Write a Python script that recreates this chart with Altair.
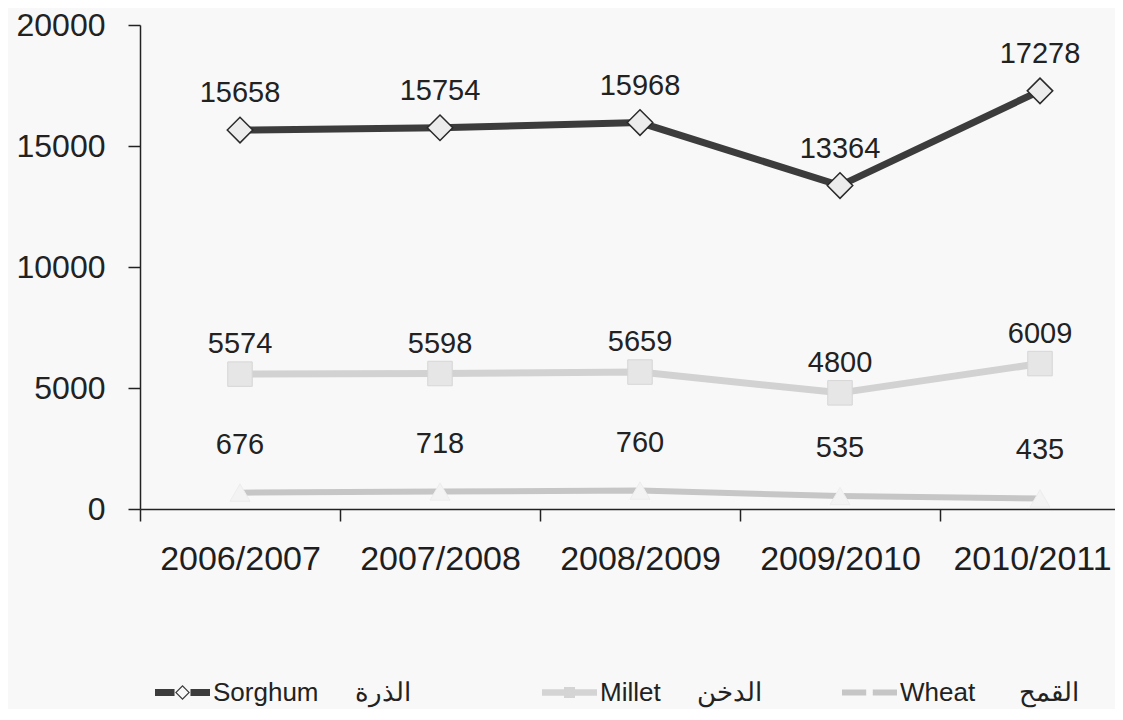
import altair as alt
import pandas as pd

years = ["2006/2007", "2007/2008", "2008/2009", "2009/2010", "2010/2011"]
series = ["Sorghum", "Millet", "Wheat"]
arabic = ["الذرة", "الدخن", "القمح"]
sorghum = [15658, 15754, 15968, 13364, 17278]
millet = [5574, 5598, 5659, 4800, 6009]
wheat = [676, 718, 760, 535, 435]
y_ticks = [0, 5000, 10000, 15000, 20000]

rows = []
for name, vals in zip(series, [sorghum, millet, wheat]):
    for yr, v in zip(years, vals):
        rows.append({"year": yr, "series": name, "value": v})
df = pd.DataFrame(rows)

REG = "Liberation Sans, Arial"

x_enc = alt.X(
    "year:N",
    sort=years,
    scale=alt.Scale(type="band", range=[0, 1000], paddingInner=0, paddingOuter=0),
    axis=alt.Axis(
        title=None, tickBand="extent", labelFont=REG, labelFontSize=34,
        labelColor="#1e1e1e", labelPadding=21, tickSize=12, tickColor="#222222",
        domainColor="#222222", domainWidth=1.5, tickWidth=1.5, labelAngle=0,
        grid=False, labelLimit=0,
        labelOffset={"condition": {"test": "datum.value == '2010/2011'", "value": -8},
                     "value": 0},
    ),
)
y_enc = alt.Y(
    "value:Q",
    scale=alt.Scale(domain=[0, 20000], nice=False),
    axis=alt.Axis(
        title=None, values=y_ticks, format="d", labelFont=REG, labelFontSize=32,
        labelColor="#222222", labelPadding=23, tickSize=12, tickColor="#222222",
        domainColor="#222222", domainWidth=1.5, tickWidth=1.5, grid=False,
        labelLimit=0,
    ),
)

base = alt.Chart(df).encode(x=x_enc, y=y_enc)

styles = {
    "Sorghum": dict(line="#3c3c3c", width=7, shape="diamond", size=650,
                    fill="#ececec", stroke="#2a2a2a", sw=1.5, dy=-37),
    "Millet": dict(line="#d2d2d2", width=7, shape="square", size=600,
                   fill="#e6e6e6", stroke="#d6d6d6", sw=1, dy=-30),
    "Wheat": dict(line="#c6c6c6", width=6, shape="triangle-up", size=400,
                  fill="#f3f3f3", stroke="#ededed", sw=1, dy=-48),
}

layers = []
for name in series:
    s = styles[name]
    sub = base.transform_filter(alt.datum.series == name)
    layers.append(sub.mark_line(color=s["line"], strokeWidth=s["width"]))
for name in series:
    s = styles[name]
    sub = base.transform_filter(alt.datum.series == name)
    layers.append(sub.mark_point(shape=s["shape"], size=s["size"], filled=True,
                                 fill=s["fill"], stroke=s["stroke"],
                                 strokeWidth=s["sw"], opacity=1))
    layers.append(sub.mark_text(dy=s["dy"], font=REG, fontSize=29,
                                color="#222222").encode(text="value:Q"))

# legend symbols: line with marker
legend_symbols = {
    "Sorghum": ("M-1,-0.13H-0.29V0.13H-1Z M0.29,-0.13H1V0.13H0.29Z "
                "M0,-0.27L0.27,0L0,0.27L-0.27,0Z M0,-0.21L-0.21,0L0,0.21L0.21,0Z"),
    "Millet": "M-1,-0.12H-0.2V-0.2H0.2V-0.12H1V0.12H0.2V0.2H-0.2V0.12H-1Z",
    "Wheat": "M-1,-0.11H-0.12V0.11H-1Z M0.12,-0.11H1V0.11H0.12Z",
}
legend_colors = {"Sorghum": "#3c3c3c", "Millet": "#d4d4d4", "Wheat": "#c6c6c6"}
legend_x = {"Sorghum": 15, "Millet": 402, "Wheat": 702}
gap = {"Sorghum": 5, "Millet": 5, "Wheat": 6}

nb = "\u00a0"
for name, ar in zip(series, arabic):
    text = name + nb * gap[name] + ar
    lay = base.transform_filter("false").mark_point(filled=True, opacity=1).encode(
        color=alt.Color("series:N",
                        scale=alt.Scale(domain=[name], range=[legend_colors[name]]),
                        legend=alt.Legend(
                            title=None, orient="none", legendX=legend_x[name], legendY=640,
                            direction="horizontal", symbolSize=3025, symbolStrokeWidth=0,
                            symbolOpacity=1, labelFont=REG, labelFontSize=26,
                            labelColor="#222222", labelOffset=3, padding=0,
                            labelExpr="'" + text + "'", labelLimit=0,
                        )),
        shape=alt.Shape("series:N",
                        scale=alt.Scale(domain=[name], range=[legend_symbols[name]])),
    )
    layers.append(lay)

chart = alt.layer(*layers).resolve_scale(
    color="independent", shape="independent"
).resolve_legend(
    color="independent", shape="independent"
).properties(
    width=975, height=484,
    autosize=alt.AutoSizeParams(type="none"),
    padding={"left": 132, "top": 17, "right": 0, "bottom": 200},
    background="#f8f8f8",
).configure_view(stroke=None)

chart.save("out.html", embed_options={"renderer": "svg", "actions": False})
